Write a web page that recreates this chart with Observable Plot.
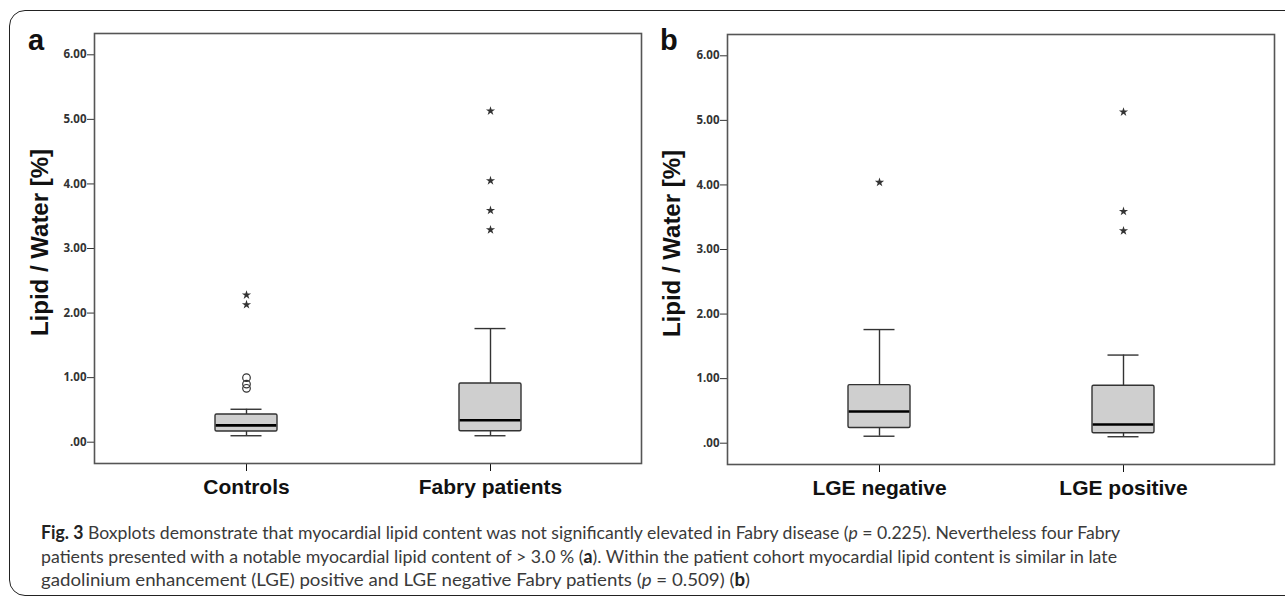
<!DOCTYPE html>
<html>
<head>
<meta charset="utf-8">
<script src="https://cdn.jsdelivr.net/npm/d3@7"></script>
<script src="https://cdn.jsdelivr.net/npm/@observablehq/plot@0.6"></script>
<style>
  html, body { margin: 0; padding: 0; background: #fff; }
  #wrap { position: relative; width: 1285px; height: 599px; overflow: hidden; font-family: "Liberation Sans", Arial, sans-serif; }
  #outer { position: absolute; left: 9px; top: 10px; width: 1320px; height: 586px; border: 1.6px solid #222; border-radius: 16px; box-sizing: border-box; }
  .panel { position: absolute; top: 0; }
  .letter { position: absolute; font-weight: bold; font-size: 29px; line-height: 1; color: #111; }
  .cap { position: absolute; left: 41px; font-family: "Lato", "Open Sans", sans-serif; font-size: 18px; line-height: 23.5px; color: #3a3a3a; white-space: nowrap; transform-origin: left center; }
  .cap b { font-weight: bold; color: #222; }
</style>
</head>
<body>
<div id="wrap">
  <div id="outer"></div>
  <div id="panelA" class="panel" style="left:0px;"></div>
  <div id="panelB" class="panel" style="left:633px; top:1px;"></div>
  <div class="letter" style="left:28px; top:26px;">a</div>
  <div class="letter" style="left:660px; top:26px;">b</div>
  <div class="cap" data-w="1079" style="top:521px;"><b>Fig. 3</b> Boxplots demonstrate that myocardial lipid content was not significantly elevated in Fabry disease (<i>p</i> = 0.225). Nevertheless four Fabry</div>
  <div class="cap" data-w="1076" style="top:545px;">patients presented with a notable myocardial lipid content of &gt; 3.0 % (<b>a</b>). Within the patient cohort myocardial lipid content is similar in late</div>
  <div class="cap" data-w="709" style="top:568px;">gadolinium enhancement (LGE) positive and LGE negative Fabry patients (<i>p</i> = 0.509) (<b>b</b>)</div>
</div>
<script>
// ---- Data ----
const yTicks = [0, 1, 2, 3, 4, 5, 6];
const yTickLabels = [".00", "1.00", "2.00", "3.00", "4.00", "5.00", "6.00"];
const yLabel = "Lipid / Water [%]";

// Panel a
const groupsA = ["Controls", "Fabry patients"];
const whiskerLowA = [0.10, 0.10];
const q1A = [0.165, 0.17];
const medianA = [0.26, 0.34];
const q3A = [0.43, 0.91];
const whiskerHighA = [0.51, 1.76];
const outlierGroupsA = ["Controls", "Controls", "Controls"];
const outlierValuesA = [1.00, 0.90, 0.835];
const extremeGroupsA = ["Controls", "Controls", "Fabry patients", "Fabry patients", "Fabry patients", "Fabry patients"];
const extremeValuesA = [2.28, 2.13, 5.13, 4.05, 3.59, 3.29];

// Panel b
const groupsB = ["LGE negative", "LGE positive"];
const whiskerLowB = [0.108, 0.10];
const q1B = [0.235, 0.155];
const medianB = [0.49, 0.29];
const q3B = [0.90, 0.89];
const whiskerHighB = [1.76, 1.365];
const outlierGroupsB = [];
const outlierValuesB = [];
const extremeGroupsB = ["LGE negative", "LGE positive", "LGE positive", "LGE positive"];
const extremeValuesB = [4.04, 5.13, 3.59, 3.29];

function panel(groups, wLo, q1, med, q3, wHi, oG, oV, eG, eV, labelDx) {
  const rows = groups.map((g, i) => ({group: g, wLo: wLo[i], q1: q1[i], med: med[i], q3: q3[i], wHi: wHi[i]}));
  const outliers = oG.map((g, i) => ({group: g, v: oV[i]}));
  const extremes = eG.map((g, i) => ({group: g, v: eV[i]}));
  const ink = "#333";
  return Plot.plot({
    width: 643, height: 510,
    marginLeft: 94, marginRight: 2, marginTop: 33, marginBottom: 47,
    style: {fontFamily: "'Liberation Sans', Arial, sans-serif", background: "transparent", overflow: "visible"},
    x: {type: "band", domain: groups, paddingInner: 0.747, paddingOuter: 0.49, label: null},
    y: {domain: [-0.33, 6.33], label: null},
    marks: [
      Plot.axisY({ticks: yTicks, tickFormat: d => yTickLabels[yTicks.indexOf(d)], tickSize: 7, tickPadding: 1,
        fontSize: 11.5, fontWeight: "bold", color: "#333", label: null, fontFamily: "'Open Sans', sans-serif"}),
      Plot.axisX({tickSize: 8, tickPadding: 8, fontSize: 21, fontWeight: "bold", color: "#111", label: null}),
      Plot.ruleX(rows, {x: "group", y1: "q3", y2: "wHi", stroke: ink, strokeWidth: 1.4}),
      Plot.ruleX(rows, {x: "group", y1: "wLo", y2: "q1", stroke: ink, strokeWidth: 1.4}),
      Plot.tickY(rows, {x: "group", y: "wHi", insetLeft: 15.5, insetRight: 15.5, stroke: ink, strokeWidth: 1.4}),
      Plot.tickY(rows, {x: "group", y: "wLo", insetLeft: 15.5, insetRight: 15.5, stroke: ink, strokeWidth: 1.4}),
      Plot.barY(rows, {x: "group", y1: "q1", y2: "q3", fill: "#cfcfcf", stroke: ink, strokeWidth: 1.4, rx: 1.5}),
      Plot.tickY(rows, {x: "group", y: "med", stroke: "#000", strokeWidth: 2.6, insetLeft: 0.7, insetRight: 0.7}),
      Plot.dot(outliers, {x: "group", y: "v", r: 3.8, stroke: ink, strokeWidth: 1.2, fill: "none"}),
      Plot.dot(extremes, {x: "group", y: "v", symbol: "star", r: 2.9, fill: ink, stroke: null}),
      Plot.frame({stroke: "#555", strokeWidth: 1.6}),
      Plot.text([yLabel], {frameAnchor: "left", textAnchor: "middle", lineAnchor: "middle", dx: labelDx, dy: -6, rotate: -90, fontSize: 24, fontWeight: "bold", fill: "#111"})
    ]
  });
}

document.getElementById("panelA").append(
  panel(groupsA, whiskerLowA, q1A, medianA, q3A, whiskerHighA, outlierGroupsA, outlierValuesA, extremeGroupsA, extremeValuesA, -54));
document.getElementById("panelB").append(
  panel(groupsB, whiskerLowB, q1B, medianB, q3B, whiskerHighB, outlierGroupsB, outlierValuesB, extremeGroupsB, extremeValuesB, -55));

// fit caption lines to the reference line widths
document.querySelectorAll(".cap").forEach(el => {
  const w = el.getBoundingClientRect().width;
  const target = +el.dataset.w;
  el.style.transform = `scaleX(${target / w})`;
});
</script>
</body>
</html>
